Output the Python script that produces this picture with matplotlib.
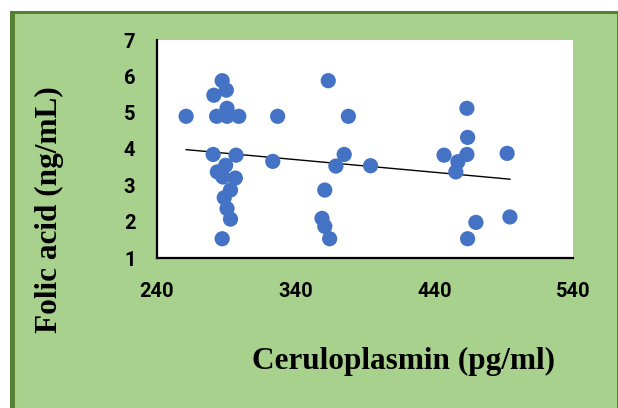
import numpy as np
import matplotlib
matplotlib.use("Agg")
import matplotlib.pyplot as plt
from matplotlib.patches import Rectangle

# Ceruloplasmin (pg/ml) vs folic acid (ng/mL)
ceruloplasmin = [261, 283, 290.5, 299, 290.5, 287, 290, 281, 327, 363.5, 378,
                 280.5, 297, 323.5, 289.5, 283.5, 287.5, 296.5, 293, 288.5,
                 290.5, 293, 287, 375, 369, 394, 361, 359, 361, 364.5,
                 463.5, 464, 447, 463.5, 457, 455.5, 492.5, 470, 464, 494.5]
folic_acid = [4.9, 4.9, 4.9, 4.9, 5.12, 5.88, 5.62, 5.48, 4.9, 5.88, 4.9,
              3.85, 3.83, 3.66, 3.55, 3.37, 3.23, 3.2, 2.87, 2.66,
              2.36, 2.07, 1.53, 3.85, 3.53, 3.54, 2.87, 2.09, 1.87, 1.53,
              5.12, 4.32, 3.83, 3.85, 3.65, 3.37, 3.88, 1.98, 1.53, 2.13]

x_ticks = [240, 340, 440, 540]
y_ticks = [1, 2, 3, 4, 5, 6, 7]

W, H = 618, 408
fig = plt.figure(figsize=(W / 100, H / 100), dpi=100)
fig.patch.set_facecolor("white")

# green panel with a darker edge on the left and top
fig.patches.append(Rectangle((10 / W, 0), 1 - 10 / W, 1 - 11 / H,
                             transform=fig.transFigure, facecolor="#548235",
                             edgecolor="none", zorder=-2))
fig.patches.append(Rectangle((14.5 / W, 0), 1 - 14.5 / W - 1.5 / W, 1 - 13.5 / H,
                             transform=fig.transFigure, facecolor="#A9D18E",
                             edgecolor="none", zorder=-1))

ax = fig.add_axes([157 / W, 1 - 258 / H, (573 - 157) / W, (258 - 40) / H])
ax.set_facecolor("white")

x = np.array(ceruloplasmin)
y = np.array(folic_acid)
ax.scatter(x, y, s=120, color="#4472C4", edgecolors="none", zorder=3)

# linear trend line over the observed range
slope, intercept = np.polyfit(x, y, 1)
xs = np.array([x.min(), x.max()])
ax.plot(xs, slope * xs + intercept, color="black", lw=1.0, zorder=2)

ax.set_xlim(240, 540)
ax.set_ylim(1, 7)
ax.set_xticks(x_ticks)
ax.set_yticks(y_ticks)

tick_font = dict(family="Roboto", weight="bold", size=14.5)
ax.set_xticklabels([str(v) for v in x_ticks], fontdict=tick_font)
ax.set_yticklabels([str(v) for v in y_ticks], fontdict=tick_font)
ax.tick_params(axis="x", length=0, pad=17)
ax.tick_params(axis="y", length=0, pad=15.5)

for side in ("top", "right"):
    ax.spines[side].set_visible(False)
for side in ("left", "bottom"):
    ax.spines[side].set_color("black")
    ax.spines[side].set_linewidth(1.6)

label_font = dict(family="Liberation Serif", weight="bold", size=22.5)
fig.text(49 / W, 1 - 210 / H, "Folic acid (ng/mL)", rotation=90,
         ha="center", va="center", **label_font)
fig.text(404 / W, 1 - 361 / H, "Ceruloplasmin (pg/ml)",
         ha="center", va="center", **label_font)

fig.savefig("out.png", dpi=100)
